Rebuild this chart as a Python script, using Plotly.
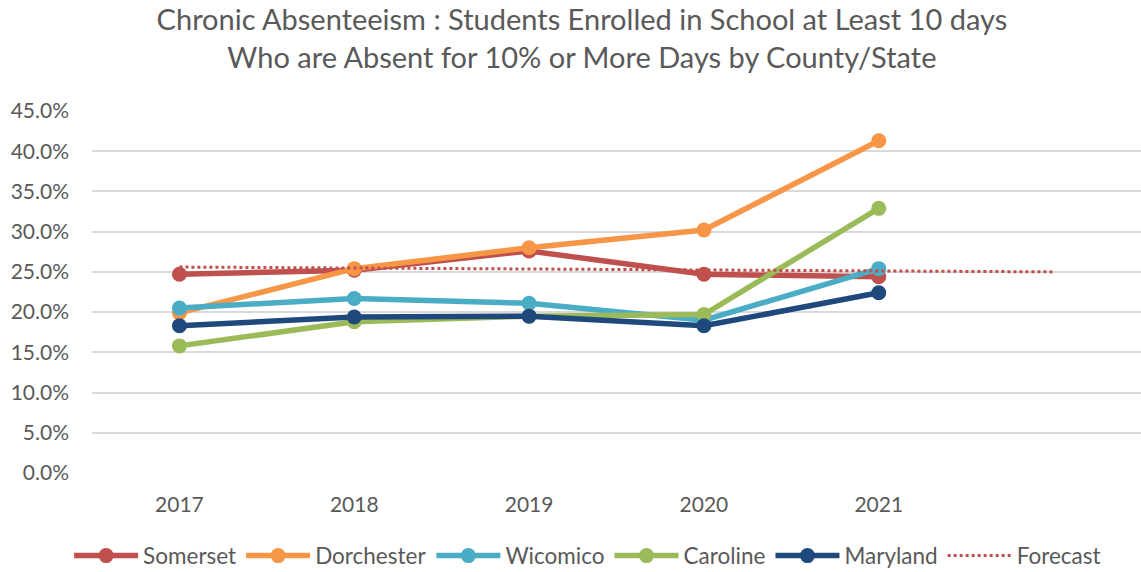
import plotly.graph_objects as go

years = [2017, 2018, 2019, 2020, 2021]
somerset = [0.247, 0.252, 0.276, 0.247, 0.244]
dorchester = [0.199, 0.254, 0.280, 0.302, 0.413]
wicomico = [0.205, 0.217, 0.211, 0.190, 0.254]
caroline = [0.158, 0.188, 0.195, 0.197, 0.329]
maryland = [0.183, 0.194, 0.195, 0.183, 0.224]
forecast_x = [2017, 2022]
forecast_y = [0.256, 0.250]
y_ticks = [0, 0.05, 0.10, 0.15, 0.20, 0.25, 0.30, 0.35, 0.40, 0.45]

series = [
    ("Somerset", somerset, "#C0504D"),
    ("Dorchester", dorchester, "#F79646"),
    ("Wicomico", wicomico, "#4BACC6"),
    ("Caroline", caroline, "#9BBB59"),
    ("Maryland", maryland, "#1F497D"),
]

fig = go.Figure()
for name, vals, col in series:
    fig.add_trace(go.Scatter(
        x=years, y=vals, name=name, mode="lines+markers",
        line=dict(color=col, width=5.5),
        marker=dict(color=col, size=15),
    ))
fig.add_trace(go.Scatter(
    x=forecast_x, y=forecast_y, name="Forecast", mode="lines",
    line=dict(color="#C0504D", width=3, dash="dot"),
))

font_family = "Lato, 'Open Sans', sans-serif"
fig.update_layout(
    width=1141, height=572,
    paper_bgcolor="white", plot_bgcolor="white",
    margin=dict(l=92, r=0, t=111, b=99, autoexpand=False),
    title=dict(
        text="Chronic Absenteeism : Students Enrolled in School at Least 10 days<br>Who are Absent for 10% or More Days by County/State",
        x=0.51, xanchor="center", y=0.947, yanchor="top",
        font=dict(family=font_family, size=29, color="#595959"),
    ),
    font=dict(family=font_family, size=22, color="#595959"),
    xaxis=dict(
        range=[2016.5, 2022.5], tickvals=years, ticktext=[str(y) for y in years],
        showgrid=False, zeroline=False, showline=False, ticks="",
        tickfont=dict(size=21, color="#595959"),
        ticklabelstandoff=17,
    ),
    yaxis=dict(
        range=[0, 0.45], tickvals=y_ticks, tickformat=".1%",
        showgrid=True, gridcolor="#D9D9D9", gridwidth=1.5,
        zeroline=False, showline=False, ticks="",
        tickfont=dict(size=21, color="#595959"),
        ticklabelstandoff=22,
    ),
    legend=dict(
        orientation="h", xref="container", yref="container",
        x=0.515, xanchor="center", y=0.028, yanchor="middle",
        font=dict(size=22.5, color="#595959"),
        itemwidth=64, tracegroupgap=0,
    ),
    showlegend=True,
)

fig.write_html("out.html", config={"displayModeBar": False})

with open("out.html", "r", encoding="utf-8") as f:
    html = f.read()
html = html.replace("<head>", "<head><style>html,body{margin:0;padding:0;}</style>", 1)
with open("out.html", "w", encoding="utf-8") as f:
    f.write(html)
